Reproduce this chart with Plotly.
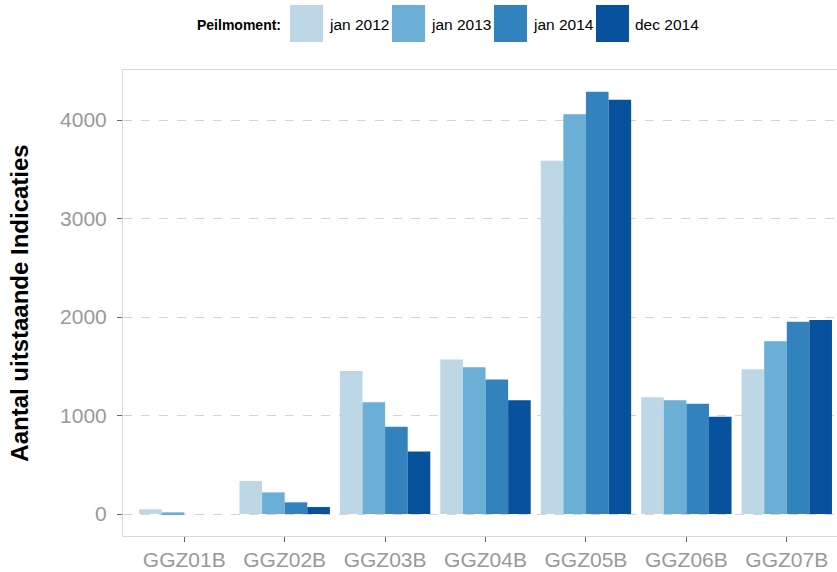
import plotly.graph_objects as go

# categories and series
categories = ["GGZ01B", "GGZ02B", "GGZ03B", "GGZ04B", "GGZ05B", "GGZ06B", "GGZ07B"]
series_names = ["jan 2012", "jan 2013", "jan 2014", "dec 2014"]
jan_2012 = [48, 335, 1452, 1570, 3587, 1185, 1469]
jan_2013 = [17, 220, 1134, 1489, 4058, 1154, 1753]
jan_2014 = [0, 119, 886, 1367, 4288, 1120, 1952]
dec_2014 = [0, 71, 636, 1154, 4206, 988, 1970]
series_values = [jan_2012, jan_2013, jan_2014, dec_2014]
colors = ["#bdd7e7", "#6baed6", "#3182bd", "#08519c"]
y_ticks = [0, 1000, 2000, 3000, 4000]

FONT = "Liberation Sans, Arial, sans-serif"

fig = go.Figure()
for name, vals, col in zip(series_names, series_values, colors):
    fig.add_trace(go.Bar(x=categories, y=vals, name=name, marker_color=col,
                         marker_line_width=0, showlegend=False))

# hand-built legend with big square keys (ggplot style)
W, H = 714, 466  # plot area in px
shapes, annotations = [], []
annotations.append(dict(text="<b>Peilmoment:</b>", xref="paper", yref="paper",
                        x=(283 - 123) / W, y=(536 - 25) / H, xanchor="right", yanchor="middle",
                        showarrow=False, font=dict(size=14, color="black", family=FONT)))
for i, (name, col) in enumerate(zip(series_names, colors)):
    x0 = 290 + i * 102
    shapes.append(dict(type="rect", xref="paper", yref="paper",
                       x0=(x0 - 123) / W, x1=(x0 + 33 - 123) / W,
                       y0=(536 - 42) / H, y1=(536 - 5) / H,
                       fillcolor=col, line=dict(width=0)))
    annotations.append(dict(text=name, xref="paper", yref="paper",
                            x=(x0 + 37 - 123) / W, y=(536 - 25) / H,
                            xanchor="left", yanchor="middle", showarrow=False,
                            font=dict(size=15.5, color="black", family=FONT)))

fig.update_layout(
    barmode="group",
    bargap=0.1,
    bargroupgap=0,
    width=837,
    height=572,
    margin=dict(l=123, r=0, t=70, b=36),
    plot_bgcolor="white",
    paper_bgcolor="white",
    font=dict(family=FONT),
    shapes=shapes,
    annotations=annotations,
    xaxis=dict(
        range=[-0.61, 6.5],
        showline=True, linecolor="#d9d9d9", linewidth=1, mirror=True,
        showgrid=False,
        ticks="outside", ticklen=5, tickcolor="#666666",
        tickfont=dict(size=21, color="#999999", family=FONT),
    ),
    yaxis=dict(
        range=[-223, 4508],
        tickvals=y_ticks,
        showline=True, linecolor="#d9d9d9", linewidth=1,
        showgrid=True, gridcolor="#d4d4d4", griddash="dash", gridwidth=1,
        zeroline=False,
        ticks="outside", ticklen=5, tickcolor="#666666",
        ticklabelstandoff=6,
        tickfont=dict(size=21, color="#999999", family=FONT),
        title=dict(text="<b>Aantal uitstaande Indicaties</b>", standoff=24,
                   font=dict(size=24, color="black", family=FONT)),
    ),
)

# drop the default body margin so the figure sits at the page's top-left corner
fig.write_html("out.html", config={"displayModeBar": False},
               post_script="document.body.style.margin='0';")
